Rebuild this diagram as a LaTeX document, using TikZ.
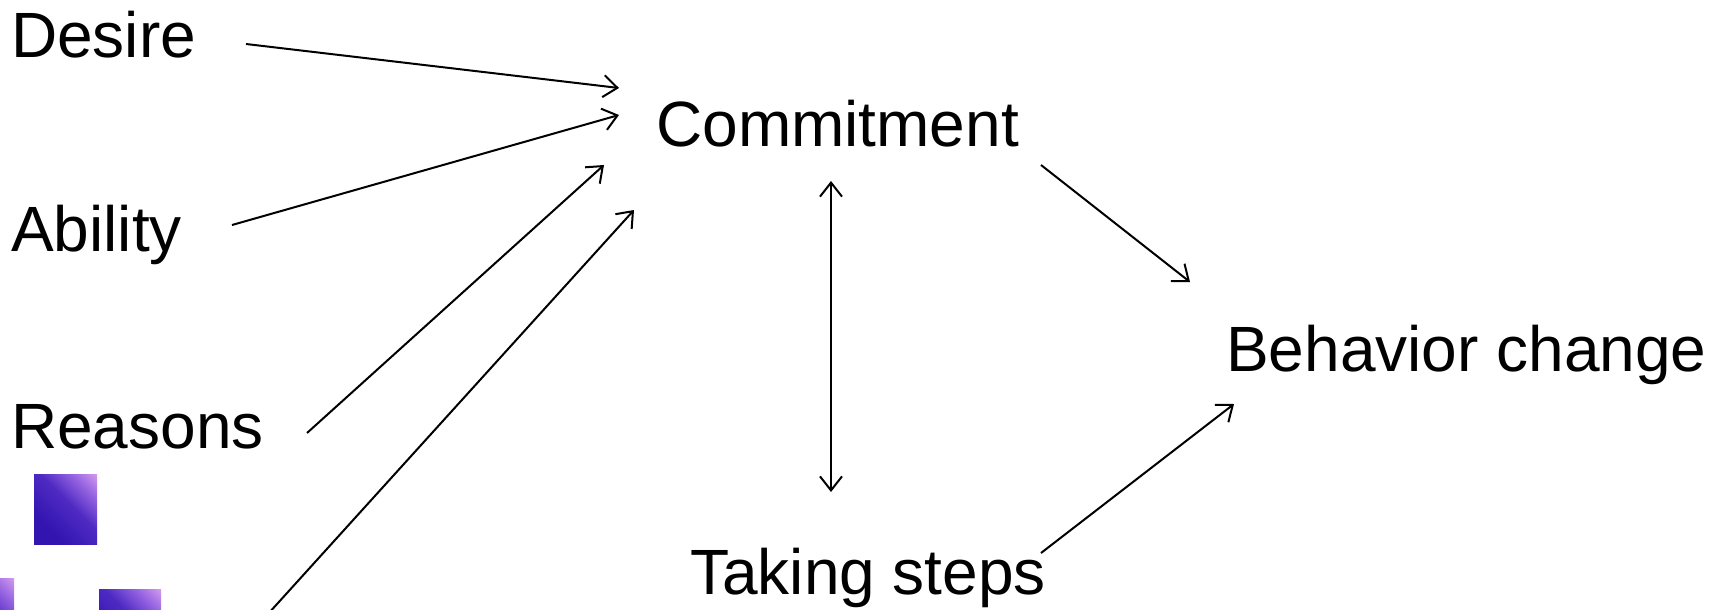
\documentclass[tikz,border=0pt]{standalone}
\usepackage{fontspec}
\setmainfont{Liberation Sans}
\usetikzlibrary{arrows.meta}
\definecolor{sqdark}{RGB}{50,20,175}
\definecolor{sqmid}{RGB}{78,42,195}
\definecolor{sqmid2}{RGB}{150,100,225}
\definecolor{sqlight}{RGB}{222,165,242}
\pgfdeclareverticalshading{sqshade}{100bp}{color(0bp)=(sqdark); color(30bp)=(sqdark); color(55bp)=(sqmid); color(72bp)=(sqmid2); color(88bp)=(sqlight); color(100bp)=(sqlight)}
\tikzset{
  lbl/.style={anchor=base west, inner sep=0pt, font=\fontsize{64}{70}\selectfont},
  arr/.style={line width=2pt, -{Straight Barb[length=14pt, width=22pt, line width=2pt]}},
  darr/.style={line width=2pt, {Straight Barb[length=14pt, width=22pt, line width=2pt]}-{Straight Barb[length=14pt, width=22pt, line width=2pt]}},
  sq/.style={shading=sqshade, shading angle=-45}
}
\begin{document}
\begin{tikzpicture}[x=1pt, y=-1pt]
\useasboundingbox (0,0) rectangle (1723,610);
\clip (0,0) rectangle (1723,610);
% decorative squares
\shade[sq] (34,474) rectangle (97,544);
\shade[sq] (-50,578) rectangle (14,648);
\shade[sq] (99,589) rectangle (161,659);
% labels
\node[lbl] (desire) at (11,57) {Desire};
\node[lbl] (ability) at (11,251) {Ability};
\node[lbl] (reasons) at (11,448) {Reasons};
\node[lbl] (commit) at (656,146) {Commitment};
\node[lbl] (behav) at (1226,371) {Behavior change};
\node[lbl] (steps) at (690,594) {Taking steps};
% connector end points
\coordinate (d1) at (246,44);   \coordinate (d2) at (619,88);
\coordinate (a1) at (232,225);  \coordinate (a2) at (619,115);
\coordinate (r1) at (307,433);  \coordinate (r2) at (604,165);
\coordinate (o1) at (268,614);  \coordinate (o2) at (634,210);
\coordinate (c1) at (831,181);  \coordinate (c2) at (831,492);
\coordinate (cb1) at (1041,165); \coordinate (cb2) at (1190,282);
\coordinate (sb1) at (1041,553); \coordinate (sb2) at (1234,404);
% connectors
\draw[arr] (d1) -- (d2);
\draw[arr] (a1) -- (a2);
\draw[arr] (r1) -- (r2);
\draw[arr] (o1) -- (o2);
\draw[darr] (c1) -- (c2);
\draw[arr] (cb1) -- (cb2);
\draw[arr] (sb1) -- (sb2);
\end{tikzpicture}
\end{document}
